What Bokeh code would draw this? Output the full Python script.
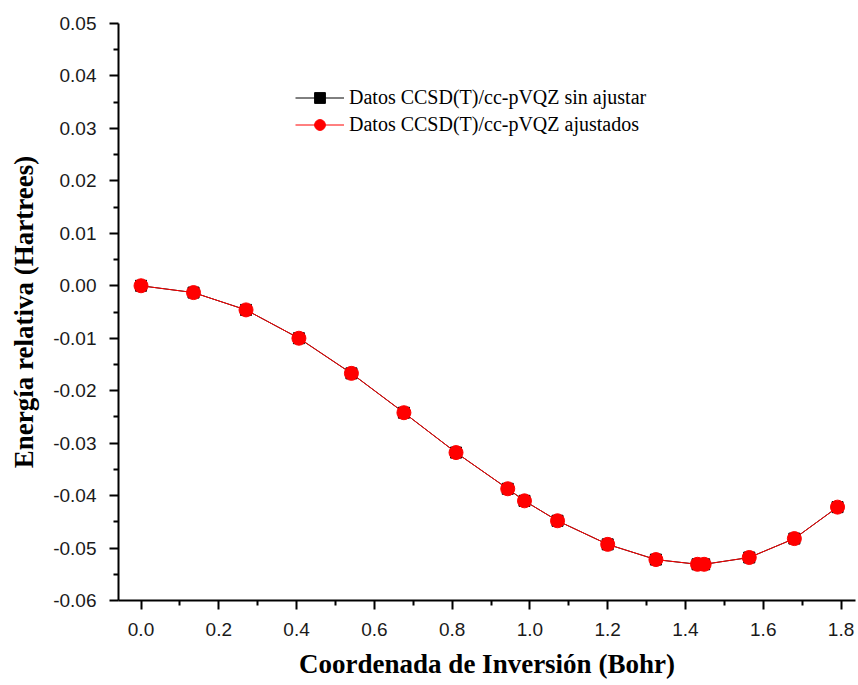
from bokeh.plotting import figure
from bokeh.models import Legend, LegendItem, FixedTicker, PrintfTickFormatter, Range1d
from bokeh.embed import file_html
from bokeh.resources import INLINE

# Data
x_sin = [0.000, 0.135, 0.270, 0.406, 0.541, 0.676, 0.810, 0.943, 0.986, 1.071,
         1.200, 1.324, 1.431, 1.448, 1.564, 1.680, 1.791]
y_sin = [0.0000, -0.0013, -0.0046, -0.0100, -0.0167, -0.0242, -0.0318, -0.0387,
         -0.0410, -0.0448, -0.0493, -0.0522, -0.0531, -0.0531, -0.0518, -0.0482, -0.0422]

x_aj = [0.000, 0.135, 0.270, 0.406, 0.541, 0.676, 0.810, 0.943, 0.986, 1.071,
        1.200, 1.324, 1.431, 1.448, 1.564, 1.680, 1.791]
y_aj = [0.0000, -0.0013, -0.0046, -0.0100, -0.0167, -0.0242, -0.0318, -0.0387,
        -0.0410, -0.0448, -0.0493, -0.0522, -0.0531, -0.0531, -0.0518, -0.0482, -0.0422]

x_ticks = [0.0, 0.2, 0.4, 0.6, 0.8, 1.0, 1.2, 1.4, 1.6, 1.8]
x_minor = [0.1, 0.3, 0.5, 0.7, 0.9, 1.1, 1.3, 1.5, 1.7]
y_ticks = [-0.06, -0.05, -0.04, -0.03, -0.02, -0.01, 0.0, 0.01, 0.02, 0.03, 0.04, 0.05]
y_minor = [-0.055, -0.045, -0.035, -0.025, -0.015, -0.005, 0.005, 0.015, 0.025, 0.035, 0.045]

label_sin = "Datos CCSD(T)/cc-pVQZ sin ajustar"
label_aj = "Datos CCSD(T)/cc-pVQZ ajustados"
x_title = "Coordenada de Inversión (Bohr)"
y_title = "Energía relativa (Hartrees)"

p = figure(width=858, height=685, output_backend="svg", toolbar_location=None,
           x_range=Range1d(-0.0579, 1.8372), y_range=Range1d(-0.06, 0.05),
           min_border_left=118, min_border_right=3, min_border_top=23, min_border_bottom=85)
p.outline_line_color = None
p.grid.visible = False
p.background_fill_color = "white"
p.border_fill_color = "white"

p.xaxis.ticker = FixedTicker(ticks=x_ticks, minor_ticks=x_minor)
p.yaxis.ticker = FixedTicker(ticks=y_ticks, minor_ticks=y_minor)
p.xaxis.formatter = PrintfTickFormatter(format="%.1f")
p.yaxis.formatter = PrintfTickFormatter(format="%.2f")
p.xaxis.axis_label = x_title
p.yaxis.axis_label = y_title

for ax in (p.xaxis, p.yaxis):
    ax.axis_line_width = 2
    ax.axis_line_color = "black"
    ax.major_tick_line_width = 2
    ax.minor_tick_line_width = 2
    ax.major_tick_line_color = "black"
    ax.minor_tick_line_color = "black"
    ax.major_tick_in = 0
    ax.minor_tick_in = 0
    ax.major_tick_out = 9
    ax.minor_tick_out = 5
    ax.major_label_text_font = "Liberation Sans"
    ax.major_label_text_font_size = "19px"
    ax.major_label_text_color = "#1a1a1a"
    ax.major_label_standoff = 13
    ax.axis_label_text_font = "Liberation Serif"
    ax.axis_label_text_font_style = "bold"
    ax.axis_label_text_font_size = "27px"
    ax.axis_label_text_color = "black"

p.xaxis.axis_label_standoff = 10
p.yaxis.axis_label_standoff = 11

l1 = p.line(x_sin, y_sin, line_color="black", line_width=1)
s1 = p.scatter(x_sin, y_sin, marker="square", size=11, fill_color="black", line_color="black")
l2 = p.line(x_aj, y_aj, line_color="red", line_width=1)
s2 = p.scatter(x_aj, y_aj, marker="circle", size=14, fill_color="red", line_color="red")

legend = Legend(items=[LegendItem(label=label_sin, renderers=[l1, s1]),
                       LegendItem(label=label_aj, renderers=[l2, s2])],
                location=(177, 462), orientation="vertical",
                glyph_width=49, glyph_height=27, label_height=27, spacing=0,
                padding=0, margin=0, label_standoff=5,
                label_text_font="Liberation Serif", label_text_font_size="20px",
                label_text_color="black",
                border_line_color=None, background_fill_alpha=0)
p.add_layout(legend)

open("out.html", "w").write(file_html(p, INLINE))
